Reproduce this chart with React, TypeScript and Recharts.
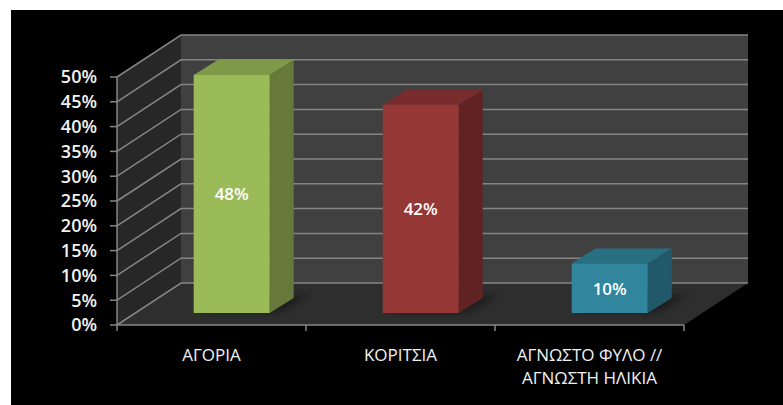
import React from "react";
import {
  BarChart,
  Bar,
  XAxis,
  YAxis,
  CartesianGrid,
  LabelList,
} from "recharts";

const categories = ["ΑΓΟΡΙΑ", "ΚΟΡΙΤΣΙΑ", "ΑΓΝΩΣΤΟ ΦΥΛΟ // ΑΓΝΩΣΤΗ ΗΛΙΚΙΑ"];
const shares = [0.48, 0.42, 0.1];
const yTicks = [0, 0.05, 0.1, 0.15, 0.2, 0.25, 0.3, 0.35, 0.4, 0.45, 0.5];

// front / top / side colours of each box
const faceColors = ["#9bbb59", "#953735", "#31859c"];
const topColors = ["#7e9948", "#782c2b", "#296f82"];
const sideColors = ["#66793a", "#602322", "#22596a"];

const data = categories.map((name, i) => ({ name, value: shares[i] }));

// depth of the 3d box (walls) and of the bars
const WALL_DX = 64;
const WALL_DY = -42;
const BAR_OX = 20;
const BAR_OY = -12;
const BAR_DX = 24;
const BAR_DY = -15;

const FONT = "'Open Sans', sans-serif";
const TEXT = "#f2f2f2";
const LINE = "#868686";

const pct = (v: number) => `${Math.round(v * 100)}%`;

const GridLine = (props: any) => {
  const { x1, x2, y1, index, x, y, width, height } = props;
  const walls =
    index === 0 ? (
      <g>
        <polygon
          points={`${x},${y} ${x + WALL_DX},${y + WALL_DY} ${x + WALL_DX},${y + height + WALL_DY} ${x},${y + height}`}
          fill="#272727"
        />
        <polygon
          points={`${x + WALL_DX},${y + WALL_DY} ${x + width + WALL_DX},${y + WALL_DY} ${x + width + WALL_DX},${y + height + WALL_DY} ${x + WALL_DX},${y + height + WALL_DY}`}
          fill="#404040"
        />
        <polygon
          points={`${x},${y + height} ${x + width},${y + height} ${x + width + WALL_DX},${y + height + WALL_DY} ${x + WALL_DX},${y + height + WALL_DY}`}
          fill="#2e2e2e"
        />
      </g>
    ) : null;
  return (
    <g key={`gl-${index}`}>
      {walls}
      <polyline
        points={`${x1},${y1} ${x1 + WALL_DX},${y1 + WALL_DY} ${x2 + WALL_DX},${y1 + WALL_DY}`}
        fill="none"
        stroke="#858585"
        strokeWidth={1.5}
      />
    </g>
  );
};

const Box = (props: any) => {
  const { x, y, width, height, index } = props;
  const l = x + BAR_OX;
  const r = l + width;
  const t = y + BAR_OY;
  const b = y + height + BAR_OY;
  return (
    <g>
      <polygon
        points={`${l + 6},${b} ${r + 10},${b} ${r + BAR_DX + 16},${b + BAR_DY - 3} ${l + BAR_DX},${b + BAR_DY}`}
        fill="#000"
        opacity={0.35}
        filter="url(#barShadow)"
      />
      <polygon
        points={`${r},${t} ${r + BAR_DX},${t + BAR_DY} ${r + BAR_DX},${b + BAR_DY} ${r},${b}`}
        fill={sideColors[index]}
      />
      <polygon
        points={`${l},${t} ${l + BAR_DX},${t + BAR_DY} ${r + BAR_DX},${t + BAR_DY} ${r},${t}`}
        fill={topColors[index]}
      />
      <rect x={l} y={t} width={width} height={b - t} fill={faceColors[index]} />
    </g>
  );
};

const BoxLabel = (props: any) => {
  const { x, y, width, height, value } = props;
  return (
    <text
      x={x + BAR_OX + width / 2}
      y={y + height / 2 + BAR_OY}
      textAnchor="middle"
      dominantBaseline="central"
      fill="#ffffff"
      fontSize={17}
      fontWeight={600}
      fontFamily={FONT}
    >
      {pct(value)}
    </text>
  );
};

const CategoryTick = (props: any) => {
  const { x, y, payload, index, width, visibleTicksCount } = props;
  const band = width / visibleTicksCount;
  const lines = String(payload.value)
    .split(/(?<=\/\/)\s+/);
  return (
    <g>
      <line x1={x - band / 2} y1={y - 6} x2={x - band / 2} y2={y} stroke={LINE} strokeWidth={1.5} />
      {index === visibleTicksCount - 1 && (
        <line x1={x + band / 2} y1={y - 6} x2={x + band / 2} y2={y} stroke={LINE} strokeWidth={1.5} />
      )}
      <text x={x} y={y} textAnchor="middle" fill={TEXT} fontSize={17} fontFamily={FONT}>
        {lines.map((ln, i) => (
          <tspan key={i} x={x} dy={i === 0 ? 30 : 23}>
            {ln}
          </tspan>
        ))}
      </text>
    </g>
  );
};

export default function App() {
  return (
    <div style={{ position: "absolute", left: 0, top: 0, width: 783, height: 405, background: "#fff" }}>
      <div style={{ position: "absolute", left: 11, top: 10, width: 772, height: 395, background: "#000" }} />
      <div style={{ position: "absolute", left: 0, top: 0 }}>
        <BarChart
          width={783}
          height={405}
          data={data}
          margin={{ top: 77, right: 99, bottom: 20, left: 57 }}
          barCategoryGap="30%"
        >
          <defs>
            <filter id="barShadow" x="-30%" y="-100%" width="160%" height="300%">
              <feGaussianBlur stdDeviation="3" />
            </filter>
          </defs>
          <CartesianGrid vertical={false} horizontal={GridLine} />
          <XAxis
            dataKey="name"
            height={60}
            axisLine={{ stroke: LINE, strokeWidth: 1.5 }}
            tickLine={false}
            tickSize={6}
            tickMargin={0}
            interval={0}
            tick={CategoryTick}
          />
          <YAxis
            width={60}
            domain={[0, 0.5]}
            ticks={yTicks}
            interval={0}
            tickFormatter={pct}
            axisLine={{ stroke: LINE, strokeWidth: 1.5 }}
            tickLine={{ stroke: LINE, strokeWidth: 1.5 }}
            tickSize={7}
            tickMargin={13}
            tick={{ fill: TEXT, fontSize: 18, fontWeight: 600, fontFamily: FONT }}
          />
          <Bar dataKey="value" shape={Box} isAnimationActive={false}>
            <LabelList dataKey="value" content={BoxLabel} />
          </Bar>
        </BarChart>
      </div>
    </div>
  );
}
